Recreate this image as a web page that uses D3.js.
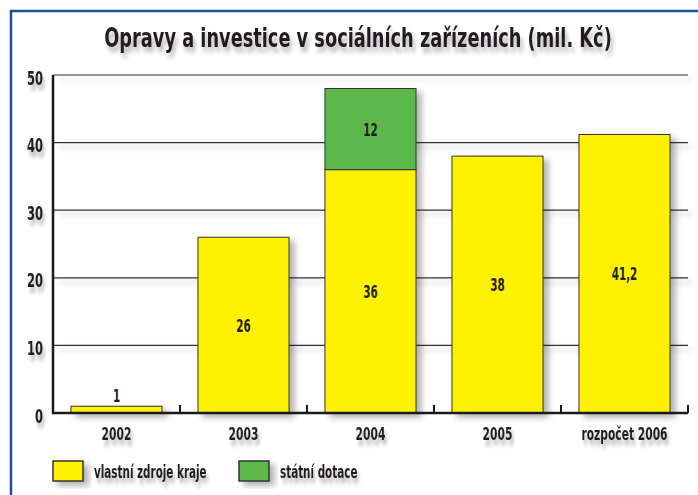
<!DOCTYPE html>
<html>
<head>
<meta charset="utf-8">
<script src="https://cdn.jsdelivr.net/npm/d3@7"></script>
<style>
  html, body { margin: 0; padding: 0; background: #fff; }
  svg { display: block; }
  text { font-family: "DejaVu Sans Condensed", "DejaVu Sans", sans-serif; font-weight: bold; fill: #231f20; }
</style>
</head>
<body>
<div id="chart"></div>
<script>
// data
const categories = ['2002', '2003', '2004', '2005', 'rozpočet 2006'];
const ownFunds = [1, 26, 36, 38, 41.2];      // vlastní zdroje kraje
const stateGrants = [0, 0, 12, 0, 0];        // státní dotace
const seriesNames = ['vlastní zdroje kraje', 'státní dotace'];
const seriesColors = ['#fff200', '#5db84b'];
const yTicks = [0, 10, 20, 30, 40, 50];
const title = 'Opravy a investice v sociálních zařízeních (mil. Kč)';

const W = 698, H = 495;
const plot = { left: 53, right: 688, top: 75, bottom: 413 };

// squeeze text horizontally to mimic the condensed print font
function condense(sel, factor) {
    sel.each(function () {
        const t = d3.select(this);
        const tx = +t.attr('x') || 0;
        const ty = +t.attr('y') || 0;
        t.attr('x', 0).attr('y', 0)
            .attr('transform', `translate(${tx},${ty}) scale(${factor},1)`);
    });
}

const svg = d3.select('#chart').append('svg')
    .attr('width', W)
    .attr('height', H);

// soft drop shadows like the printed graphic
const defs = svg.append('defs');
defs.append('filter').attr('id', 'shadow')
    .attr('x', '-20%').attr('y', '-20%').attr('width', '150%').attr('height', '160%')
    .append('feDropShadow')
    .attr('dx', 5).attr('dy', 4).attr('stdDeviation', 3)
    .attr('flood-color', '#000').attr('flood-opacity', 0.3);
defs.append('filter').attr('id', 'textShadow')
    .attr('x', '-20%').attr('y', '-50%').attr('width', '150%').attr('height', '250%')
    .append('feDropShadow')
    .attr('dx', 3).attr('dy', 5).attr('stdDeviation', 2.5)
    .attr('flood-color', '#000').attr('flood-opacity', 0.3);

// blue frame (top + left)
svg.append('path')
    .attr('d', `M11,${H} V11 H${W}`)
    .attr('fill', 'none')
    .attr('stroke', '#1d4f9c')
    .attr('stroke-width', 2.5);

// title
svg.append('text')
    .attr('x', 358)
    .attr('y', 47)
    .attr('text-anchor', 'middle')
    .attr('font-size', 26)
    .attr('filter', 'url(#textShadow)')
    .text(title)
    .call(condense, 0.76);

// scales
const x = d3.scaleBand()
    .domain(categories)
    .range([plot.left, plot.right])
    .paddingInner(0.283)
    .paddingOuter(0.1415);

const y = d3.scaleLinear()
    .domain([0, 50])
    .range([plot.bottom, plot.top]);

// gridlines
svg.append('g')
    .attr('filter', 'url(#shadow)')
    .selectAll('line')
    .data(yTicks.filter(d => d > 0))
    .join('line')
    .attr('x1', plot.left)
    .attr('x2', plot.right)
    .attr('y1', d => y(d))
    .attr('y2', d => y(d))
    .attr('stroke', '#333')
    .attr('stroke-width', 1.2);

// y axis labels
const yAxis = d3.axisLeft(y).tickValues(yTicks).tickSize(0).tickPadding(10);
const gy = svg.append('g')
    .attr('transform', `translate(${plot.left},0)`)
    .call(yAxis);
gy.attr('font-family', null).attr('font-size', null);
gy.select('.domain').remove();
gy.selectAll('text')
    .attr('font-size', 20)
    .attr('dy', '0.45em')
    .attr('filter', 'url(#textShadow)')
    .call(condense, 0.64);

// stacked bars
const table = categories.map((c, i) => ({ cat: c, own: ownFunds[i], state: stateGrants[i] }));
const stack = d3.stack().keys(['own', 'state']);
const layers = stack(table);

const gBars = svg.append('g').attr('filter', 'url(#shadow)');
layers.forEach((layer, li) => {
    gBars.append('g')
        .selectAll('rect')
        .data(layer.filter(d => d[1] > d[0]))
        .join('rect')
        .attr('x', d => x(d.data.cat))
        .attr('width', x.bandwidth())
        .attr('y', d => y(d[1]))
        .attr('height', d => y(d[0]) - y(d[1]))
        .attr('fill', seriesColors[li])
        .attr('stroke', '#333')
        .attr('stroke-width', 1);
});

// value labels
const fmt = v => String(v).replace('.', ',');
const small = d => y(d[0]) - y(d[1]) < 20 && d[0] === 0;
layers.forEach(layer => {
    svg.append('g')
        .selectAll('text')
        .data(layer.filter(d => d[1] > d[0]))
        .join('text')
        .attr('x', d => x(d.data.cat) + x.bandwidth() / 2)
        .attr('y', d => small(d) ? y(d[1]) - 4 : (y(d[0]) + y(d[1])) / 2)
        .attr('dy', d => small(d) ? 0 : '0.36em')
        .attr('text-anchor', 'middle')
        .attr('font-size', 18)
        .text(d => fmt(d[1] - d[0]))
        .call(condense, 0.64);
});

// axis lines
svg.append('path')
    .attr('d', `M${plot.left},${plot.top} V${plot.bottom} H${plot.right}`)
    .attr('fill', 'none')
    .attr('stroke', '#1a1a1a')
    .attr('stroke-width', 2.5);

// small ticks between categories
const boundary = d => x(d) - x.step() * x.paddingOuter() + x.step();
svg.append('g')
    .selectAll('line')
    .data(categories)
    .join('line')
    .attr('x1', boundary)
    .attr('x2', boundary)
    .attr('y1', plot.bottom - 8)
    .attr('y2', plot.bottom)
    .attr('stroke', '#1a1a1a')
    .attr('stroke-width', 2);

// x labels
svg.append('g')
    .selectAll('text')
    .data(categories)
    .join('text')
    .attr('x', d => x(d) + x.bandwidth() / 2)
    .attr('y', 440)
    .attr('text-anchor', 'middle')
    .attr('font-size', 17)
    .attr('filter', 'url(#textShadow)')
    .text(d => d)
    .call(condense, 0.7);

// legend
const legendX = [53, 239];
const legend = svg.append('g');
seriesNames.forEach((name, i) => {
    legend.append('rect')
        .attr('x', legendX[i])
        .attr('y', 461)
        .attr('width', 30)
        .attr('height', 20)
        .attr('fill', seriesColors[i])
        .attr('stroke', '#333')
        .attr('stroke-width', 1.5)
        .attr('filter', 'url(#shadow)');
    legend.append('text')
        .attr('x', legendX[i] + 41)
        .attr('y', 478)
        .attr('font-size', 17)
        .attr('filter', 'url(#textShadow)')
        .text(name)
        .call(condense, 0.68);
});
</script>
</body>
</html>
